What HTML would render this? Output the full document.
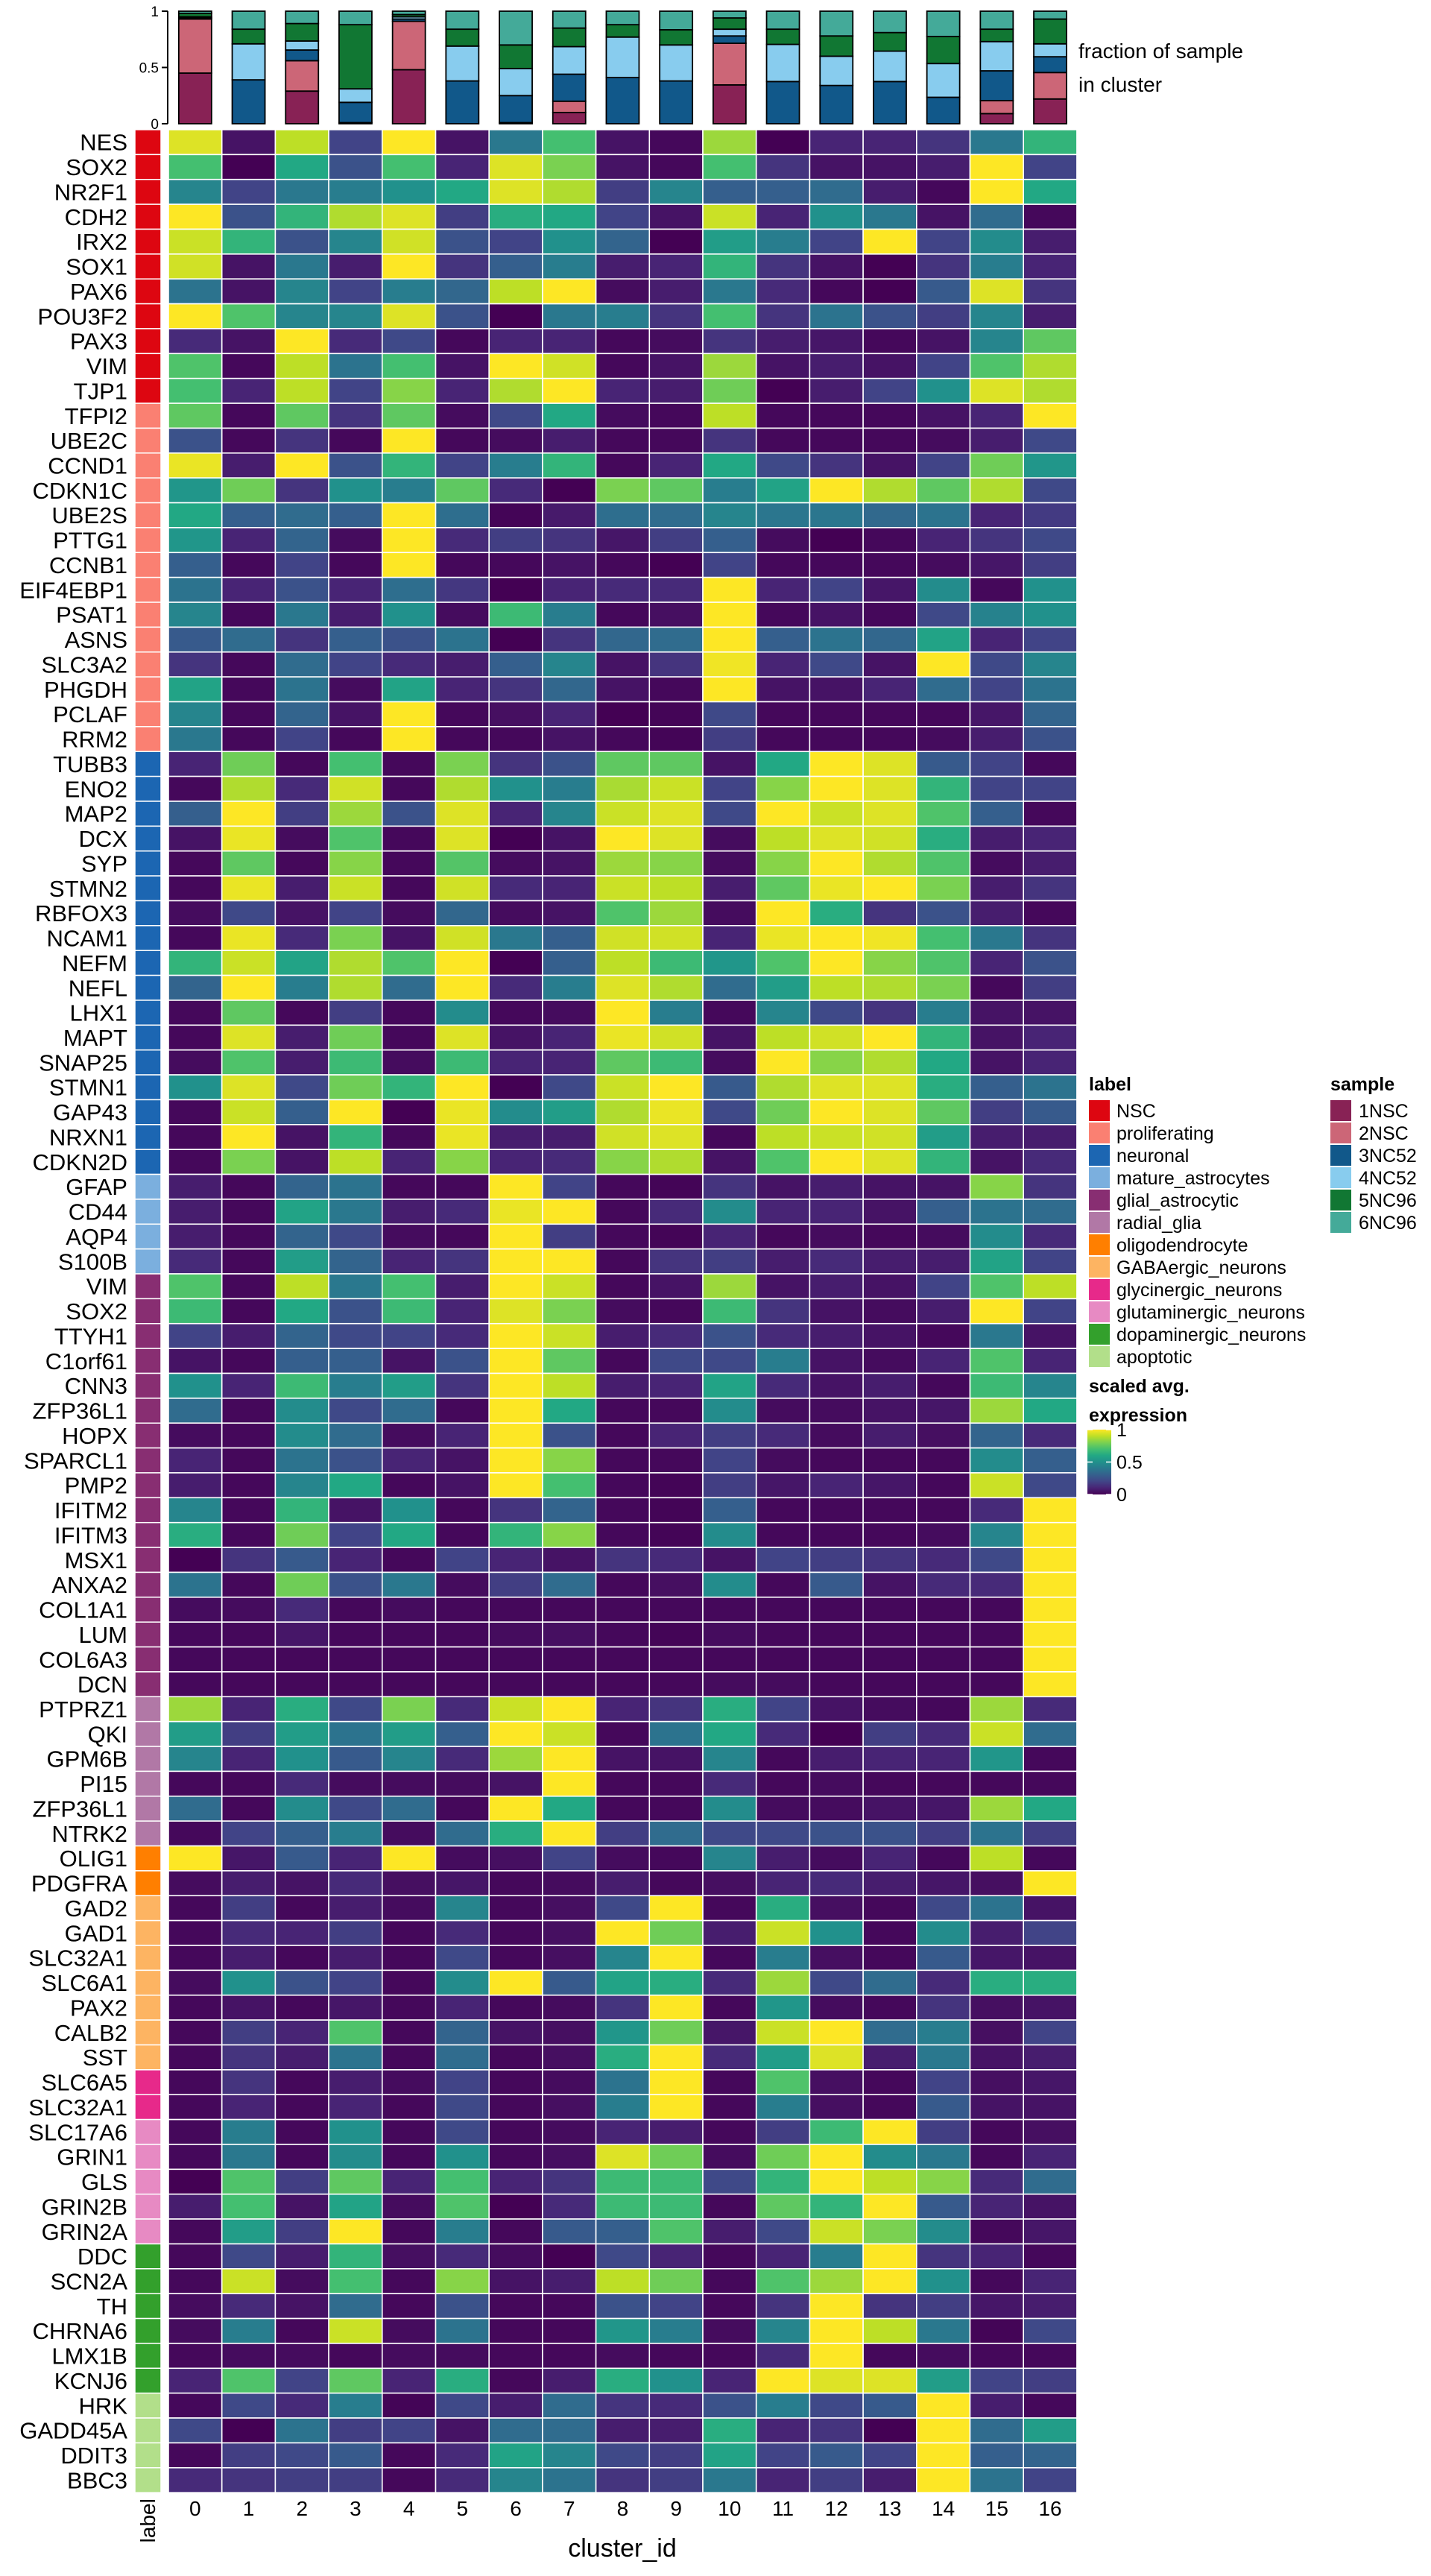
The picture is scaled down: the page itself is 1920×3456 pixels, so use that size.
<!DOCTYPE html>
<html><head><meta charset="utf-8">
<style>
html,body{margin:0;padding:0;background:#fff;}
svg{display:block;font-family:"Liberation Sans",sans-serif;}
</style></head>
<body>
<svg id="chart" width="1920" height="3456" viewBox="0 0 1920 3456" xmlns="http://www.w3.org/2000/svg">
<g id="bars"></g>
<g id="heat"></g>
<g id="legend"></g>
</svg>
<script>
const clusters = ["0","1","2","3","4","5","6","7","8","9","10","11","12","13","14","15","16"];
const genes = ["NES","SOX2","NR2F1","CDH2","IRX2","SOX1","PAX6","POU3F2","PAX3","VIM","TJP1",
"TFPI2","UBE2C","CCND1","CDKN1C","UBE2S","PTTG1","CCNB1","EIF4EBP1","PSAT1","ASNS","SLC3A2","PHGDH","PCLAF","RRM2",
"TUBB3","ENO2","MAP2","DCX","SYP","STMN2","RBFOX3","NCAM1","NEFM","NEFL","LHX1","MAPT","SNAP25","STMN1","GAP43","NRXN1","CDKN2D",
"GFAP","CD44","AQP4","S100B",
"VIM","SOX2","TTYH1","C1orf61","CNN3","ZFP36L1","HOPX","SPARCL1","PMP2","IFITM2","IFITM3","MSX1","ANXA2","COL1A1","LUM","COL6A3","DCN",
"PTPRZ1","QKI","GPM6B","PI15","ZFP36L1","NTRK2",
"OLIG1","PDGFRA",
"GAD2","GAD1","SLC32A1","SLC6A1","PAX2","CALB2","SST",
"SLC6A5","SLC32A1",
"SLC17A6","GRIN1","GLS","GRIN2B","GRIN2A",
"DDC","SCN2A","TH","CHRNA6","LMX1B","KCNJ6",
"HRK","GADD45A","DDIT3","BBC3"];
const groupNames = ["NSC","proliferating","neuronal","mature_astrocytes","glial_astrocytic","radial_glia","oligodendrocyte","GABAergic_neurons","glycinergic_neurons","glutaminergic_neurons","dopaminergic_neurons","apoptotic"];
const groupSizes = [11,14,17,4,17,6,2,7,2,5,6,4];
const groupColors = ["#DD0611","#FA8072","#1C66B2","#7BAFDE","#882E72","#B178A6","#FF7F00","#FDB462","#E7298A","#E78AC3","#33A02C","#B2DF8A"];
const samples = ["1NSC","2NSC","3NC52","4NC52","5NC96","6NC96"];
const sampleColors = ["#882255","#CC6677","#11588A","#88CCEE","#117733","#44AA99"];
const frac1NSC  = [0.45,0,0.29,0.01,0.48,0,0.01,0.10,0,0,0.345,0,0,0,0,0.09,0.22];
const frac2NSC  = [0.48,0,0.27,0,0.43,0,0,0.10,0,0,0.37,0,0,0,0,0.115,0.235];
const frac3NC52 = [0.01,0.39,0.095,0.18,0.02,0.38,0.24,0.24,0.41,0.38,0.065,0.375,0.34,0.375,0.235,0.265,0.14];
const frac4NC52 = [0.01,0.32,0.08,0.12,0.02,0.31,0.24,0.245,0.36,0.32,0.06,0.33,0.26,0.27,0.30,0.26,0.115];
const frac5NC96 = [0.03,0.13,0.155,0.57,0.02,0.15,0.21,0.165,0.11,0.135,0.10,0.135,0.18,0.165,0.24,0.11,0.22];
const frac6NC96 = [0.02,0.16,0.11,0.12,0.03,0.16,0.30,0.15,0.12,0.165,0.06,0.16,0.22,0.19,0.225,0.16,0.07];
const barTicks = [0,0.5,1];
const barTickLabels = ["0","0.5","1"];
const expr = [
[0.95,0.05,0.9,0.2,1,0.05,0.4,0.7,0.05,0.02,0.85,0,0.1,0.1,0.15,0.4,0.65],
[0.7,0,0.6,0.25,0.7,0.1,0.95,0.8,0.05,0.02,0.7,0.15,0.05,0.05,0.08,1,0.2],
[0.45,0.2,0.4,0.42,0.5,0.6,0.95,0.88,0.18,0.45,0.3,0.3,0.35,0.08,0.02,1,0.6],
[1,0.25,0.65,0.88,0.95,0.18,0.62,0.6,0.2,0.05,0.92,0.1,0.5,0.4,0.05,0.35,0.02],
[0.92,0.65,0.25,0.45,0.93,0.25,0.2,0.5,0.32,0,0.55,0.42,0.2,1,0.2,0.48,0.08],
[0.93,0.05,0.4,0.08,1,0.15,0.3,0.42,0.08,0.1,0.65,0.15,0.05,0,0.15,0.42,0.1],
[0.38,0.05,0.45,0.2,0.42,0.33,0.9,1,0.03,0.08,0.4,0.12,0.02,0,0.28,0.95,0.15],
[1,0.72,0.45,0.45,0.95,0.25,0,0.4,0.42,0.15,0.7,0.15,0.38,0.25,0.18,0.45,0.08],
[0.12,0.05,1,0.12,0.22,0.02,0.1,0.1,0.02,0.03,0.15,0.08,0.06,0.02,0.05,0.45,0.75],
[0.72,0.02,0.9,0.38,0.7,0.05,1,0.93,0.02,0.05,0.85,0.05,0.08,0.05,0.2,0.72,0.88],
[0.7,0.1,0.9,0.2,0.82,0.1,0.88,1,0.1,0.08,0.78,0,0.08,0.2,0.5,0.95,0.88],
[0.75,0.02,0.75,0.15,0.75,0.03,0.22,0.6,0.03,0.02,0.9,0.02,0.02,0.02,0.05,0.1,1],
[0.25,0.02,0.15,0.02,1,0.02,0.03,0.08,0.02,0.02,0.15,0.02,0.02,0.02,0.03,0.08,0.22],
[0.97,0.08,1,0.25,0.65,0.2,0.42,0.65,0.02,0.1,0.6,0.22,0.15,0.05,0.2,0.78,0.52],
[0.52,0.78,0.15,0.5,0.42,0.75,0.12,0,0.8,0.75,0.42,0.58,1,0.88,0.75,0.88,0.22],
[0.6,0.3,0.35,0.3,1,0.36,0.01,0.07,0.36,0.35,0.45,0.39,0.39,0.34,0.38,0.1,0.17],
[0.52,0.1,0.32,0.03,1,0.12,0.18,0.15,0.06,0.18,0.3,0.03,0,0.02,0.1,0.15,0.22],
[0.3,0.02,0.2,0.02,1,0.02,0.02,0.05,0.02,0,0.2,0.02,0.02,0.02,0.03,0.06,0.18],
[0.38,0.1,0.25,0.1,0.36,0.16,0,0.1,0.12,0.12,1,0.1,0.2,0.06,0.48,0.02,0.5],
[0.45,0.02,0.4,0.08,0.5,0.03,0.68,0.42,0.02,0.04,1,0.02,0.05,0.02,0.22,0.44,0.5],
[0.28,0.35,0.15,0.3,0.25,0.38,0,0.15,0.33,0.35,1,0.3,0.38,0.33,0.58,0.1,0.2],
[0.15,0.02,0.35,0.2,0.12,0.08,0.3,0.45,0.05,0.15,0.98,0.1,0.22,0.05,1,0.22,0.45],
[0.58,0.02,0.38,0.03,0.58,0.1,0.15,0.33,0.05,0.02,1,0.05,0.05,0.1,0.35,0.2,0.38],
[0.45,0.02,0.32,0.05,1,0.02,0.04,0.1,0,0.01,0.22,0.02,0.02,0.02,0.02,0.06,0.32],
[0.4,0.02,0.2,0.02,1,0.02,0.02,0.05,0.02,0.01,0.18,0.02,0.02,0.02,0.03,0.08,0.25],
[0.1,0.78,0.02,0.7,0.02,0.8,0.15,0.25,0.75,0.75,0.05,0.6,1,0.95,0.28,0.2,0.02],
[0.02,0.88,0.12,0.93,0.02,0.88,0.5,0.42,0.87,0.92,0.2,0.82,1,0.95,0.65,0.2,0.2],
[0.3,1,0.18,0.85,0.25,0.95,0.1,0.45,0.92,0.95,0.22,1,0.92,0.95,0.72,0.3,0.02],
[0.05,0.97,0.03,0.72,0.02,0.95,0,0.05,1,0.95,0.03,0.9,0.95,0.93,0.62,0.08,0.1],
[0.02,0.75,0.02,0.82,0.02,0.73,0.03,0.05,0.85,0.82,0.03,0.82,1,0.88,0.72,0.03,0.08],
[0.02,0.97,0.08,0.92,0.02,0.93,0.12,0.1,0.92,0.9,0.08,0.75,0.97,1,0.8,0.08,0.15],
[0.03,0.22,0.05,0.2,0.03,0.33,0.03,0.05,0.72,0.85,0.03,1,0.62,0.15,0.25,0.08,0.02],
[0.02,0.97,0.12,0.8,0.05,0.93,0.4,0.3,0.93,0.93,0.1,0.97,1,0.98,0.7,0.4,0.15],
[0.65,0.92,0.58,0.88,0.72,1,0,0.3,0.9,0.68,0.52,0.72,1,0.82,0.72,0.1,0.25],
[0.32,1,0.42,0.88,0.35,1,0.12,0.42,0.95,0.88,0.35,0.55,0.9,0.88,0.8,0.02,0.18],
[0.02,0.75,0.02,0.18,0.02,0.48,0.02,0.03,1,0.42,0.02,0.45,0.22,0.15,0.42,0.05,0.05],
[0.02,0.95,0.08,0.78,0.02,0.95,0.05,0.1,0.97,0.93,0.05,0.9,0.93,1,0.65,0.05,0.1],
[0.03,0.72,0.08,0.68,0.03,0.68,0.1,0.1,0.75,0.68,0.03,1,0.82,0.88,0.6,0.05,0.1],
[0.5,0.95,0.22,0.78,0.65,1,0,0.22,0.92,1,0.28,0.88,0.95,0.95,0.62,0.3,0.38],
[0.02,0.92,0.3,1,0,0.97,0.48,0.55,0.88,0.97,0.22,0.78,1,0.95,0.75,0.18,0.28],
[0.02,1,0.05,0.65,0.02,0.97,0.08,0.08,0.93,0.95,0.02,0.9,0.92,0.93,0.55,0.08,0.08],
[0.02,0.8,0.05,0.9,0.1,0.82,0.1,0.12,0.82,0.88,0.05,0.72,1,0.95,0.65,0.05,0.12],
[0.08,0.02,0.32,0.38,0.02,0.02,1,0.2,0.02,0.01,0.15,0.05,0.08,0.05,0.05,0.82,0.15],
[0.08,0.02,0.58,0.4,0.08,0.12,0.97,1,0.02,0.12,0.48,0.1,0.1,0.05,0.3,0.38,0.35],
[0.08,0.02,0.32,0.22,0.03,0.02,1,0.18,0.02,0.01,0.1,0.02,0.03,0.02,0.03,0.48,0.12],
[0.12,0.02,0.55,0.32,0.1,0.15,1,1,0.02,0.15,0.18,0.08,0.12,0.08,0.08,0.58,0.2],
[0.72,0.02,0.9,0.4,0.7,0.08,1,0.92,0.02,0.05,0.85,0.05,0.08,0.05,0.2,0.72,0.9],
[0.68,0.02,0.6,0.25,0.68,0.1,0.95,0.8,0.03,0.02,0.68,0.15,0.05,0.03,0.08,1,0.2],
[0.2,0.08,0.32,0.22,0.2,0.12,1,0.92,0.08,0.12,0.25,0.12,0.08,0.05,0.02,0.4,0.05],
[0.05,0.02,0.3,0.3,0.05,0.25,1,0.75,0.02,0.22,0.22,0.42,0.05,0.03,0.1,0.72,0.1],
[0.5,0.1,0.68,0.42,0.55,0.15,1,0.9,0.08,0.1,0.58,0.12,0.05,0.08,0.02,0.68,0.45],
[0.35,0.02,0.48,0.22,0.35,0.02,1,0.6,0.02,0.02,0.48,0.03,0.03,0.05,0.06,0.85,0.6],
[0.03,0.02,0.48,0.35,0.03,0.1,1,0.25,0.02,0.1,0.18,0.12,0.03,0.08,0.04,0.32,0.12],
[0.1,0.02,0.38,0.25,0.1,0.05,1,0.82,0.02,0.02,0.2,0.03,0.02,0.02,0.02,0.48,0.3],
[0.08,0.02,0.45,0.6,0.02,0.05,1,0.7,0.02,0.01,0.18,0.06,0.1,0.06,0.02,0.92,0.22],
[0.45,0.02,0.65,0.05,0.5,0.02,0.15,0.32,0.02,0.01,0.3,0.02,0.02,0.02,0.02,0.12,1],
[0.62,0.02,0.78,0.2,0.6,0.02,0.65,0.82,0.02,0.01,0.48,0.02,0.02,0.02,0.03,0.45,1],
[0,0.15,0.28,0.1,0.02,0.2,0.1,0.05,0.15,0.12,0.05,0.2,0.18,0.15,0.12,0.22,1],
[0.38,0.02,0.78,0.25,0.4,0.03,0.18,0.35,0.02,0.04,0.48,0.02,0.28,0.05,0.12,0.12,1],
[0.03,0.03,0.12,0.02,0.03,0.02,0.02,0.02,0.02,0.02,0.02,0.02,0.02,0.02,0.02,0.02,1],
[0.02,0.02,0.06,0.02,0.02,0.02,0.03,0.04,0.02,0.01,0.03,0.02,0.02,0.02,0.02,0.02,1],
[0.02,0.02,0.02,0.02,0.02,0.02,0.02,0.02,0.02,0.02,0.02,0.02,0.02,0.02,0.02,0.02,1],
[0.02,0.02,0.02,0.02,0.02,0.02,0.02,0.02,0.02,0.02,0.03,0.03,0.02,0.02,0.02,0.02,1],
[0.85,0.1,0.62,0.22,0.8,0.12,0.92,1,0.1,0.15,0.62,0.2,0.05,0.03,0.02,0.85,0.12],
[0.55,0.18,0.55,0.38,0.55,0.3,1,0.92,0.02,0.38,0.6,0.12,0,0.18,0.12,0.92,0.35],
[0.45,0.1,0.5,0.28,0.45,0.12,0.85,1,0.05,0.05,0.45,0.02,0.08,0.1,0.1,0.52,0.02],
[0.02,0.02,0.12,0.03,0.03,0.03,0.05,1,0.02,0.02,0.12,0.02,0.03,0.02,0.02,0.02,0.02],
[0.35,0.02,0.48,0.22,0.35,0.02,1,0.6,0.02,0.02,0.48,0.03,0.03,0.05,0.06,0.85,0.6],
[0.02,0.2,0.3,0.42,0.03,0.35,0.62,1,0.18,0.35,0.22,0.22,0.25,0.25,0.18,0.38,0.18],
[1,0.06,0.28,0.1,1,0.03,0.04,0.2,0.03,0.02,0.45,0.08,0.03,0.1,0.02,0.9,0.02],
[0.03,0.08,0.05,0.12,0.04,0.06,0.02,0.03,0.08,0.02,0.04,0.1,0.12,0.08,0.06,0.04,1],
[0.02,0.18,0.02,0.08,0.03,0.45,0.02,0.04,0.22,1,0.02,0.62,0.04,0.02,0.22,0.38,0.05],
[0.02,0.12,0.1,0.18,0.02,0.12,0.02,0.04,1,0.78,0.08,0.92,0.5,0.02,0.48,0.08,0.2],
[0.02,0.08,0.02,0.08,0.02,0.22,0.02,0.04,0.45,1,0.02,0.42,0.04,0.02,0.28,0.06,0.05],
[0.03,0.5,0.25,0.2,0.02,0.48,1,0.28,0.58,0.62,0.12,0.85,0.22,0.35,0.12,0.62,0.62],
[0.02,0.05,0.02,0.06,0.02,0.1,0.02,0.03,0.15,1,0.02,0.52,0.03,0.02,0.15,0.04,0.05],
[0.02,0.18,0.1,0.72,0.02,0.32,0.05,0.04,0.52,0.78,0.06,0.92,1,0.35,0.42,0.04,0.2],
[0.02,0.15,0.08,0.38,0.02,0.35,0.02,0.04,0.62,1,0.12,0.55,0.95,0.08,0.4,0.05,0.08],
[0.02,0.15,0.02,0.08,0.03,0.2,0.02,0.03,0.38,1,0.02,0.72,0.04,0.02,0.2,0.04,0.06],
[0.02,0.1,0.02,0.1,0.02,0.22,0.02,0.04,0.42,1,0.02,0.42,0.04,0.02,0.28,0.05,0.05],
[0.02,0.42,0.02,0.5,0.02,0.22,0.02,0.03,0.1,0.08,0.02,0.18,0.68,1,0.18,0.02,0.04],
[0.02,0.4,0.02,0.48,0.02,0.5,0.02,0.04,0.95,0.78,0.03,0.78,1,0.48,0.4,0.02,0.1],
[0,0.72,0.18,0.75,0.1,0.7,0.1,0.15,0.68,0.68,0.22,0.65,1,0.9,0.82,0.12,0.35],
[0.08,0.7,0.05,0.58,0.03,0.72,0,0.12,0.68,0.68,0.02,0.75,0.65,1,0.28,0.1,0.05],
[0.02,0.55,0.18,1,0.02,0.42,0.02,0.28,0.3,0.72,0.08,0.22,0.92,0.8,0.48,0.02,0.06],
[0.02,0.22,0.08,0.65,0.04,0.12,0.03,0,0.22,0.1,0.02,0.1,0.42,1,0.15,0.1,0.02],
[0.02,0.92,0.03,0.7,0.02,0.82,0.05,0.08,0.9,0.78,0.02,0.72,0.85,1,0.5,0.02,0.1],
[0.03,0.12,0.05,0.35,0.02,0.25,0.02,0.02,0.25,0.2,0.02,0.15,1,0.15,0.18,0.06,0.08],
[0.03,0.42,0.02,0.92,0.03,0.38,0.02,0.02,0.52,0.42,0.03,0.45,1,0.9,0.4,0.01,0.22],
[0.02,0.03,0.03,0.02,0.03,0.03,0.02,0.02,0.03,0.02,0.02,0.12,1,0.02,0.03,0.02,0.02],
[0.1,0.72,0.2,0.75,0.1,0.62,0.02,0.08,0.62,0.5,0.1,1,0.95,0.95,0.55,0.2,0.18],
[0.02,0.22,0.12,0.42,0.01,0.22,0.08,0.35,0.15,0.12,0.25,0.42,0.22,0.28,1,0.08,0.02],
[0.22,0,0.38,0.18,0.2,0.05,0.35,0.35,0.08,0.08,0.62,0.1,0.15,0,1,0.35,0.55],
[0.02,0.18,0.22,0.28,0.02,0.12,0.58,0.45,0.22,0.18,0.58,0.2,0.28,0.2,1,0.3,0.32],
[0.12,0.15,0.18,0.18,0.02,0.12,0.45,0.38,0.15,0.18,0.4,0.1,0.18,0.08,1,0.38,0.2]
];
const legendTicks = [0,0.5,1];
const legendTickLabels = ["0","0.5","1"];

const NS = "http://www.w3.org/2000/svg";
function mk(tag, attrs, parent){const e=document.createElementNS(NS,tag);for(const k in attrs)e.setAttribute(k,attrs[k]);parent.appendChild(e);return e;}
const VIR=["#440154","#482475","#414487","#355f8d","#2a788e","#21918c","#22a884","#44bf70","#7ad151","#bddf26","#fde725"];
function hex(c){return [parseInt(c.slice(1,3),16),parseInt(c.slice(3,5),16),parseInt(c.slice(5,7),16)];}
function viridis(v){v=Math.max(0,Math.min(1,v));const p=v*10;const i=Math.min(9,Math.floor(p));const t=p-i;const a=hex(VIR[i]),b=hex(VIR[i+1]);return "rgb("+a.map((x,k)=>Math.round(x+(b[k]-x)*t)).join(",")+")";}

const heatLeft=226, colPitch=71.7, heatTop=174, rowPitch=33.37;
const xCol = i => heatLeft + i*colPitch;
const yRow = j => heatTop + j*rowPitch;
const barY0=166, barY1=15;
const yFrac = f => barY0 - f*(barY0-barY1);

// ---- bars
const bars=document.getElementById("bars");
const axisLine=mk("line",{x1:225,y1:barY1,x2:225,y2:barY0,stroke:"#000","stroke-width":2},bars);


barTicks.forEach((t,k)=>{
  const tk=mk("line",{x1:217,y1:yFrac(t),x2:225,y2:yFrac(t),stroke:"#000","stroke-width":2},bars);
  
  
  const tl=mk("text",{x:213,y:yFrac(t)+7,"text-anchor":"end","font-size":19,fill:"#000"},bars);
  tl.textContent=barTickLabels[k];
  
  
});
const fracs=[frac1NSC,frac2NSC,frac3NC52,frac4NC52,frac5NC96,frac6NC96];
clusters.forEach((c,i)=>{
  let cum=0;
  const cx=xCol(i)+colPitch/2;
  fracs.forEach((arr,s)=>{
    const v=arr[i]; if(v<=0) return;
    const r=mk("rect",{x:cx-22,y:yFrac(cum+v),width:44,height:yFrac(cum)-yFrac(cum+v),fill:sampleColors[s],stroke:"#000","stroke-width":1.8},bars);
    
    
    cum+=v;
  });
});
const ft1=mk("text",{x:1447,y:78,"font-size":28,fill:"#000"},bars);ft1.textContent="fraction of sample";


const ft2=mk("text",{x:1447,y:123,"font-size":28,fill:"#000"},bars);ft2.textContent="in cluster";



// ---- heatmap
const heat=document.getElementById("heat");
let gIdx=[];groupSizes.forEach((n,g)=>{for(let k=0;k<n;k++)gIdx.push(g);});
genes.forEach((gname,j)=>{
  const y=yRow(j);
  const lab=mk("text",{x:171,y:y+rowPitch/2+11,"text-anchor":"end","font-size":31,fill:"#000"},heat);
  lab.textContent=gname;
  
  
  const strip=mk("rect",{x:181,y:y,width:35,height:rowPitch,fill:groupColors[gIdx[j]],stroke:"#fff","stroke-width":1.5},heat);
  
  
  expr[j].forEach((v,i)=>{
    const r=mk("rect",{x:xCol(i),y:y,width:colPitch,height:rowPitch,fill:viridis(v),stroke:"#fff","stroke-width":1.6},heat);
    
    
  });
});
const yb=yRow(genes.length);
clusters.forEach((c,i)=>{
  const t=mk("text",{x:xCol(i)+colPitch/2,y:yb+31,"text-anchor":"middle","font-size":28,fill:"#000"},heat);
  t.textContent=c;
  
  
});
const lt=mk("text",{x:0,y:0,"font-size":28,fill:"#000","text-anchor":"end",transform:"translate(208,"+(yb+8)+") rotate(-90)"},heat);
lt.textContent="label";


const xt=mk("text",{x:835,y:yb+86,"text-anchor":"middle","font-size":34,fill:"#000"},heat);
xt.textContent="cluster_id";



// ---- legends
const leg=document.getElementById("legend");
const LFS=25, step=30.0, keyTop=1476;
const t1=mk("text",{x:1461,y:1463,"font-size":LFS,"font-weight":"bold",fill:"#000"},leg);t1.textContent="label";


groupNames.forEach((n,k)=>{
  const y=keyTop+k*step;
  const r=mk("rect",{x:1461,y:y,width:28,height:28,fill:groupColors[k]},leg);
  
  
  const t=mk("text",{x:1498,y:y+23,"font-size":LFS,fill:"#000"},leg);t.textContent=n;
  
  
});
const t2=mk("text",{x:1785,y:1463,"font-size":LFS,"font-weight":"bold",fill:"#000"},leg);t2.textContent="sample";


samples.forEach((n,k)=>{
  const y=keyTop+k*step;
  const r=mk("rect",{x:1785,y:y,width:28,height:28,fill:sampleColors[k]},leg);
  
  
  const t=mk("text",{x:1823,y:y+23,"font-size":LFS,fill:"#000"},leg);t.textContent=n;
  
  
});
const t3=mk("text",{x:1461,y:1868,"font-size":LFS,"font-weight":"bold",fill:"#000"},leg);t3.textContent="scaled avg.";


const t4=mk("text",{x:1461,y:1907,"font-size":LFS,"font-weight":"bold",fill:"#000"},leg);t4.textContent="expression";


const defs=mk("defs",{},leg);
const grad=mk("linearGradient",{id:"vg",x1:0,y1:1,x2:0,y2:0},defs);
VIR.forEach((c,k)=>mk("stop",{offset:(k*10)+"%","stop-color":c},grad));
const cbTop=1918, cbBot=2005;
const cb=mk("rect",{x:1459,y:cbTop,width:32,height:cbBot-cbTop,fill:"url(#vg)"},leg);


const yCb = v => cbBot - v*(cbBot-cbTop);
legendTicks.forEach((v,k)=>{
  const y=yCb(v);
  mk("line",{x1:1459,y1:y,x2:1466,y2:y,stroke:"#fff","stroke-width":1.5},leg);
  mk("line",{x1:1484,y1:y,x2:1491,y2:y,stroke:"#fff","stroke-width":1.5},leg);
  const t=mk("text",{x:1498,y:y+9,"font-size":LFS,fill:"#000"},leg);t.textContent=legendTickLabels[k];
  
  
});
</script>
</body></html>
